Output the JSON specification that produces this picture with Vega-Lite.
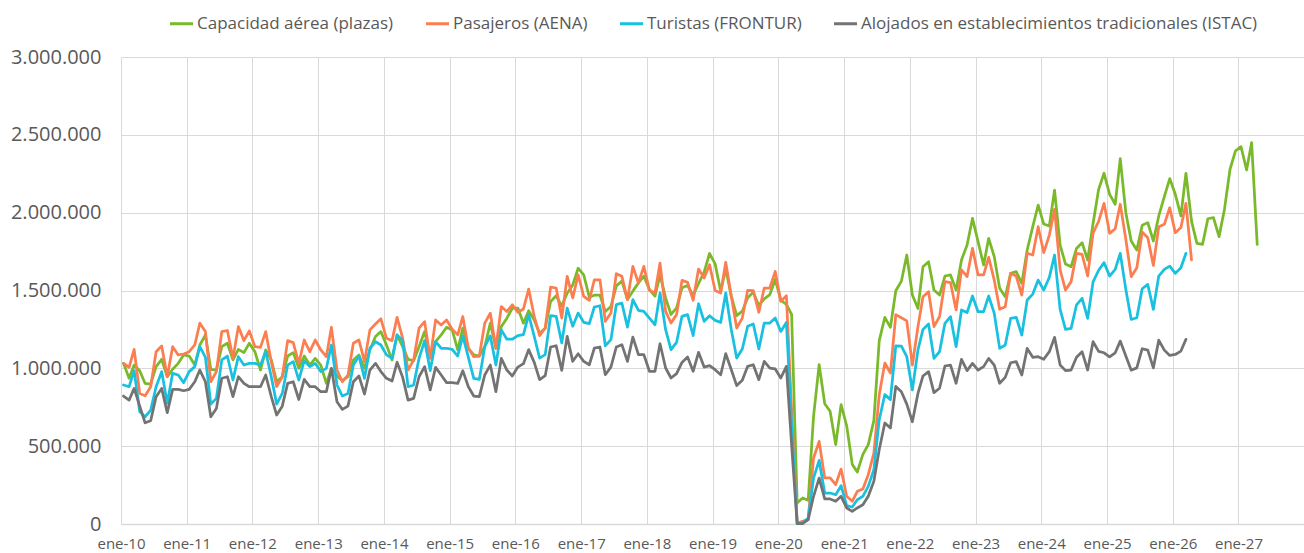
{
"$schema": "https://vega.github.io/schema/vega-lite/v6.json",
"width": 1183, "height": 467,
"autosize": {"type": "none"},
"padding": {"left": 121, "top": 57, "right": 0, "bottom": 29},
"background": "white",
"config": {"view": {"stroke": null}, "font": "Open Sans"},
"data": {"values": [
{"d":"2010-01-15","c":1032000,"p":1032000,"t":893000,"a":822000},
{"d":"2010-02-15","c":936000,"p":1006000,"t":882000,"a":796000},
{"d":"2010-03-15","c":1021000,"p":1122000,"t":985000,"a":871000},
{"d":"2010-04-15","c":985000,"p":839000,"t":721000,"a":757000},
{"d":"2010-05-15","c":903000,"p":824000,"t":689000,"a":650000},
{"d":"2010-06-15","c":899000,"p":882000,"t":732000,"a":663000},
{"d":"2010-07-15","c":1011000,"p":1107000,"t":882000,"a":818000},
{"d":"2010-08-15","c":1058000,"p":1144000,"t":979000,"a":871000},
{"d":"2010-09-15","c":946000,"p":946000,"t":775000,"a":715000},
{"d":"2010-10-15","c":994000,"p":1139000,"t":968000,"a":865000},
{"d":"2010-11-15","c":1032000,"p":1086000,"t":957000,"a":865000},
{"d":"2010-12-15","c":1086000,"p":1092000,"t":908000,"a":856000},
{"d":"2011-01-15","c":1079000,"p":1107000,"t":979000,"a":865000},
{"d":"2011-02-15","c":1021000,"p":1150000,"t":1011000,"a":914000},
{"d":"2011-03-15","c":1150000,"p":1290000,"t":1139000,"a":989000},
{"d":"2011-04-15","c":1215000,"p":1236000,"t":1071000,"a":914000},
{"d":"2011-05-15","c":994000,"p":914000,"t":770000,"a":689000},
{"d":"2011-06-15","c":989000,"p":979000,"t":807000,"a":742000},
{"d":"2011-07-15","c":1139000,"p":1236000,"t":1054000,"a":936000},
{"d":"2011-08-15","c":1161000,"p":1243000,"t":1079000,"a":946000},
{"d":"2011-09-15","c":1054000,"p":1064000,"t":925000,"a":818000},
{"d":"2011-10-15","c":1122000,"p":1268000,"t":1075000,"a":946000},
{"d":"2011-11-15","c":1101000,"p":1178000,"t":1021000,"a":903000},
{"d":"2011-12-15","c":1161000,"p":1240000,"t":1032000,"a":882000},
{"d":"2012-01-15","c":1107000,"p":1139000,"t":1032000,"a":882000},
{"d":"2012-02-15","c":989000,"p":1135000,"t":1021000,"a":882000},
{"d":"2012-03-15","c":1118000,"p":1236000,"t":1107000,"a":957000},
{"d":"2012-04-15","c":1054000,"p":1043000,"t":946000,"a":818000},
{"d":"2012-05-15","c":914000,"p":882000,"t":770000,"a":700000},
{"d":"2012-06-15","c":946000,"p":946000,"t":839000,"a":757000},
{"d":"2012-07-15","c":1079000,"p":1178000,"t":1021000,"a":903000},
{"d":"2012-08-15","c":1101000,"p":1165000,"t":1043000,"a":914000},
{"d":"2012-09-15","c":1000000,"p":1032000,"t":925000,"a":800000},
{"d":"2012-10-15","c":1079000,"p":1182000,"t":1049000,"a":929000},
{"d":"2012-11-15","c":1021000,"p":1107000,"t":1011000,"a":882000},
{"d":"2012-12-15","c":1064000,"p":1182000,"t":1032000,"a":882000},
{"d":"2013-01-15","c":1021000,"p":1118000,"t":979000,"a":850000},
{"d":"2013-02-15","c":903000,"p":1075000,"t":1000000,"a":850000},
{"d":"2013-03-15","c":1000000,"p":1264000,"t":1150000,"a":1000000},
{"d":"2013-04-15","c":951000,"p":989000,"t":893000,"a":785000},
{"d":"2013-05-15","c":921000,"p":914000,"t":822000,"a":736000},
{"d":"2013-06-15","c":946000,"p":957000,"t":839000,"a":757000},
{"d":"2013-07-15","c":1054000,"p":1161000,"t":1021000,"a":914000},
{"d":"2013-08-15","c":1086000,"p":1182000,"t":1079000,"a":951000},
{"d":"2013-09-15","c":1000000,"p":1043000,"t":936000,"a":835000},
{"d":"2013-10-15","c":1118000,"p":1247000,"t":1129000,"a":989000},
{"d":"2013-11-15","c":1204000,"p":1285000,"t":1172000,"a":1032000},
{"d":"2013-12-15","c":1236000,"p":1318000,"t":1150000,"a":979000},
{"d":"2014-01-15","c":1150000,"p":1193000,"t":1086000,"a":936000},
{"d":"2014-02-15","c":1054000,"p":1178000,"t":1064000,"a":918000},
{"d":"2014-03-15","c":1215000,"p":1328000,"t":1215000,"a":1039000},
{"d":"2014-04-15","c":1139000,"p":1193000,"t":1178000,"a":942000},
{"d":"2014-05-15","c":1058000,"p":989000,"t":882000,"a":796000},
{"d":"2014-06-15","c":1049000,"p":1054000,"t":893000,"a":807000},
{"d":"2014-07-15","c":1139000,"p":1258000,"t":1064000,"a":946000},
{"d":"2014-08-15","c":1236000,"p":1300000,"t":1178000,"a":1011000},
{"d":"2014-09-15","c":1079000,"p":1064000,"t":985000,"a":861000},
{"d":"2014-10-15","c":1172000,"p":1311000,"t":1172000,"a":1006000},
{"d":"2014-11-15","c":1215000,"p":1279000,"t":1129000,"a":957000},
{"d":"2014-12-15","c":1264000,"p":1311000,"t":1129000,"a":908000},
{"d":"2015-01-15","c":1247000,"p":1251000,"t":1122000,"a":908000},
{"d":"2015-02-15","c":1118000,"p":1215000,"t":1079000,"a":903000},
{"d":"2015-03-15","c":1258000,"p":1333000,"t":1208000,"a":985000},
{"d":"2015-04-15","c":1129000,"p":1129000,"t":1071000,"a":882000},
{"d":"2015-05-15","c":1086000,"p":1075000,"t":936000,"a":822000},
{"d":"2015-06-15","c":1079000,"p":1079000,"t":929000,"a":818000},
{"d":"2015-07-15","c":1139000,"p":1290000,"t":1139000,"a":957000},
{"d":"2015-08-15","c":1290000,"p":1354000,"t":1208000,"a":1021000},
{"d":"2015-09-15","c":1129000,"p":1129000,"t":1021000,"a":850000},
{"d":"2015-10-15","c":1268000,"p":1397000,"t":1247000,"a":1064000},
{"d":"2015-11-15","c":1322000,"p":1365000,"t":1187000,"a":989000},
{"d":"2015-12-15","c":1386000,"p":1408000,"t":1187000,"a":951000},
{"d":"2016-01-15","c":1387000,"p":1360000,"t":1210000,"a":1008000},
{"d":"2016-02-15","c":1290000,"p":1381000,"t":1216000,"a":1030000},
{"d":"2016-03-15","c":1370000,"p":1509000,"t":1345000,"a":1120000},
{"d":"2016-04-15","c":1310000,"p":1334000,"t":1205000,"a":1038000},
{"d":"2016-05-15","c":1226000,"p":1210000,"t":1066000,"a":927000},
{"d":"2016-06-15","c":1258000,"p":1259000,"t":1088000,"a":953000},
{"d":"2016-07-15","c":1429000,"p":1522000,"t":1338000,"a":1137000},
{"d":"2016-08-15","c":1466000,"p":1516000,"t":1334000,"a":1145000},
{"d":"2016-09-15","c":1400000,"p":1323000,"t":1163000,"a":987000},
{"d":"2016-10-15","c":1483000,"p":1591000,"t":1387000,"a":1205000},
{"d":"2016-11-15","c":1536000,"p":1452000,"t":1270000,"a":1045000},
{"d":"2016-12-15","c":1643000,"p":1601000,"t":1355000,"a":1094000},
{"d":"2017-01-15","c":1600000,"p":1462000,"t":1295000,"a":1045000},
{"d":"2017-02-15","c":1457000,"p":1437000,"t":1287000,"a":1023000},
{"d":"2017-03-15","c":1470000,"p":1569000,"t":1394000,"a":1130000},
{"d":"2017-04-15","c":1470000,"p":1569000,"t":1402000,"a":1137000},
{"d":"2017-05-15","c":1365000,"p":1302000,"t":1145000,"a":959000},
{"d":"2017-06-15","c":1397000,"p":1355000,"t":1184000,"a":1008000},
{"d":"2017-07-15","c":1530000,"p":1608000,"t":1409000,"a":1137000},
{"d":"2017-08-15","c":1560000,"p":1591000,"t":1419000,"a":1152000},
{"d":"2017-09-15","c":1442000,"p":1441000,"t":1265000,"a":1045000},
{"d":"2017-10-15","c":1496000,"p":1655000,"t":1441000,"a":1201000},
{"d":"2017-11-15","c":1549000,"p":1548000,"t":1372000,"a":1088000},
{"d":"2017-12-15","c":1592000,"p":1655000,"t":1366000,"a":1088000},
{"d":"2018-01-15","c":1506000,"p":1501000,"t":1323000,"a":981000},
{"d":"2018-02-15","c":1464000,"p":1484000,"t":1280000,"a":981000},
{"d":"2018-03-15","c":1600000,"p":1676000,"t":1484000,"a":1158000},
{"d":"2018-04-15","c":1453000,"p":1366000,"t":1248000,"a":1002000},
{"d":"2018-05-15","c":1346000,"p":1291000,"t":1120000,"a":938000},
{"d":"2018-06-15","c":1389000,"p":1345000,"t":1167000,"a":966000},
{"d":"2018-07-15","c":1517000,"p":1565000,"t":1334000,"a":1038000},
{"d":"2018-08-15","c":1532000,"p":1552000,"t":1345000,"a":1073000},
{"d":"2018-09-15","c":1468000,"p":1437000,"t":1210000,"a":981000},
{"d":"2018-10-15","c":1545000,"p":1638000,"t":1415000,"a":1103000},
{"d":"2018-11-15","c":1618000,"p":1580000,"t":1302000,"a":1008000},
{"d":"2018-12-15","c":1738000,"p":1666000,"t":1338000,"a":1017000},
{"d":"2019-01-15","c":1671000,"p":1500000,"t":1308000,"a":991000},
{"d":"2019-02-15","c":1496000,"p":1484000,"t":1295000,"a":959000},
{"d":"2019-03-15","c":1639000,"p":1681000,"t":1484000,"a":1094000},
{"d":"2019-04-15","c":1464000,"p":1462000,"t":1248000,"a":991000},
{"d":"2019-05-15","c":1339000,"p":1259000,"t":1066000,"a":889000},
{"d":"2019-06-15","c":1367000,"p":1323000,"t":1124000,"a":923000},
{"d":"2019-07-15","c":1453000,"p":1501000,"t":1270000,"a":1013000},
{"d":"2019-08-15","c":1489000,"p":1499000,"t":1285000,"a":1023000},
{"d":"2019-09-15","c":1404000,"p":1360000,"t":1124000,"a":927000},
{"d":"2019-10-15","c":1446000,"p":1516000,"t":1291000,"a":1045000},
{"d":"2019-11-15","c":1474000,"p":1516000,"t":1291000,"a":1002000},
{"d":"2019-12-15","c":1571000,"p":1623000,"t":1323000,"a":996000},
{"d":"2020-01-15","c":1438000,"p":1430000,"t":1237000,"a":938000},
{"d":"2020-02-15","c":1410000,"p":1467000,"t":1295000,"a":1013000},
{"d":"2020-03-15","c":1346000,"p":734000,"t":649000,"a":510000},
{"d":"2020-04-15","c":135000,"p":6000,"t":2000,"a":2000},
{"d":"2020-05-15","c":167000,"p":17000,"t":6000,"a":2000},
{"d":"2020-06-15","c":152000,"p":28000,"t":39000,"a":28000},
{"d":"2020-07-15","c":692000,"p":424000,"t":295000,"a":178000},
{"d":"2020-08-15","c":1024000,"p":531000,"t":409000,"a":295000},
{"d":"2020-09-15","c":773000,"p":296000,"t":199000,"a":161000},
{"d":"2020-10-15","c":724000,"p":296000,"t":199000,"a":161000},
{"d":"2020-11-15","c":510000,"p":253000,"t":188000,"a":146000},
{"d":"2020-12-15","c":767000,"p":353000,"t":246000,"a":178000},
{"d":"2021-01-15","c":631000,"p":178000,"t":118000,"a":103000},
{"d":"2021-02-15","c":383000,"p":146000,"t":109000,"a":81000},
{"d":"2021-03-15","c":334000,"p":210000,"t":156000,"a":103000},
{"d":"2021-04-15","c":447000,"p":225000,"t":178000,"a":124000},
{"d":"2021-05-15","c":510000,"p":317000,"t":242000,"a":178000},
{"d":"2021-06-15","c":664000,"p":456000,"t":349000,"a":274000},
{"d":"2021-07-15","c":1178000,"p":831000,"t":670000,"a":478000},
{"d":"2021-08-15","c":1327000,"p":1034000,"t":831000,"a":649000},
{"d":"2021-09-15","c":1263000,"p":970000,"t":799000,"a":617000},
{"d":"2021-10-15","c":1498000,"p":1345000,"t":1145000,"a":884000},
{"d":"2021-11-15","c":1560000,"p":1325000,"t":1143000,"a":850000},
{"d":"2021-12-15","c":1728000,"p":1305000,"t":1075000,"a":770000},
{"d":"2022-01-15","c":1471000,"p":1021000,"t":861000,"a":657000},
{"d":"2022-02-15","c":1385000,"p":1268000,"t":1118000,"a":839000},
{"d":"2022-03-15","c":1653000,"p":1460000,"t":1250000,"a":951000},
{"d":"2022-04-15","c":1685000,"p":1492000,"t":1285000,"a":979000},
{"d":"2022-05-15","c":1503000,"p":1268000,"t":1064000,"a":844000},
{"d":"2022-06-15","c":1471000,"p":1332000,"t":1107000,"a":872000},
{"d":"2022-07-15","c":1593000,"p":1557000,"t":1289000,"a":1015000},
{"d":"2022-08-15","c":1600000,"p":1550000,"t":1332000,"a":1021000},
{"d":"2022-09-15","c":1503000,"p":1375000,"t":1139000,"a":904000},
{"d":"2022-10-15","c":1696000,"p":1632000,"t":1375000,"a":1058000},
{"d":"2022-11-15","c":1792000,"p":1589000,"t":1358000,"a":985000},
{"d":"2022-12-15","c":1963000,"p":1771000,"t":1465000,"a":1032000},
{"d":"2023-01-15","c":1814000,"p":1600000,"t":1364000,"a":989000},
{"d":"2023-02-15","c":1664000,"p":1600000,"t":1364000,"a":1011000},
{"d":"2023-03-15","c":1835000,"p":1713000,"t":1465000,"a":1064000},
{"d":"2023-04-15","c":1717000,"p":1567000,"t":1353000,"a":1021000},
{"d":"2023-05-15","c":1514000,"p":1379000,"t":1128000,"a":904000},
{"d":"2023-06-15","c":1460000,"p":1396000,"t":1150000,"a":942000},
{"d":"2023-07-15","c":1610000,"p":1610000,"t":1321000,"a":1036000},
{"d":"2023-08-15","c":1621000,"p":1593000,"t":1328000,"a":1043000},
{"d":"2023-09-15","c":1546000,"p":1471000,"t":1214000,"a":957000},
{"d":"2023-10-15","c":1760000,"p":1739000,"t":1439000,"a":1128000},
{"d":"2023-11-15","c":1910000,"p":1728000,"t":1477000,"a":1071000},
{"d":"2023-12-15","c":2049000,"p":1910000,"t":1567000,"a":1075000},
{"d":"2024-01-15","c":1927000,"p":1743000,"t":1503000,"a":1058000},
{"d":"2024-02-15","c":1914000,"p":1856000,"t":1584000,"a":1107000},
{"d":"2024-03-15","c":2145000,"p":2021000,"t":1728000,"a":1199000},
{"d":"2024-04-15","c":1792000,"p":1632000,"t":1379000,"a":1021000},
{"d":"2024-05-15","c":1670000,"p":1503000,"t":1250000,"a":985000},
{"d":"2024-06-15","c":1653000,"p":1557000,"t":1257000,"a":989000},
{"d":"2024-07-15","c":1770000,"p":1739000,"t":1407000,"a":1071000},
{"d":"2024-08-15","c":1807000,"p":1732000,"t":1450000,"a":1107000},
{"d":"2024-09-15","c":1696000,"p":1593000,"t":1321000,"a":989000},
{"d":"2024-10-15","c":1930000,"p":1869000,"t":1555000,"a":1171000},
{"d":"2024-11-15","c":2150000,"p":1945000,"t":1630000,"a":1109000},
{"d":"2024-12-15","c":2253000,"p":2060000,"t":1679000,"a":1100000},
{"d":"2025-01-15","c":2118000,"p":1867000,"t":1593000,"a":1074000},
{"d":"2025-02-15","c":2054000,"p":1897000,"t":1636000,"a":1100000},
{"d":"2025-03-15","c":2347000,"p":2054000,"t":1739000,"a":1175000},
{"d":"2025-04-15","c":2000000,"p":1829000,"t":1507000,"a":1079000},
{"d":"2025-05-15","c":1818000,"p":1589000,"t":1314000,"a":988000},
{"d":"2025-06-15","c":1760000,"p":1646000,"t":1325000,"a":1003000},
{"d":"2025-07-15","c":1919000,"p":1876000,"t":1511000,"a":1126000},
{"d":"2025-08-15","c":1936000,"p":1839000,"t":1539000,"a":1117000},
{"d":"2025-09-15","c":1818000,"p":1661000,"t":1379000,"a":1003000},
{"d":"2025-10-15","c":1979000,"p":1910000,"t":1593000,"a":1181000},
{"d":"2025-11-15","c":2103000,"p":1925000,"t":1636000,"a":1117000},
{"d":"2025-12-15","c":2219000,"p":2032000,"t":1657000,"a":1083000},
{"d":"2026-01-15","c":2118000,"p":1871000,"t":1610000,"a":1089000},
{"d":"2026-02-15","c":1979000,"p":1904000,"t":1646000,"a":1111000},
{"d":"2026-03-15","c":2253000,"p":2060000,"t":1739000,"a":1186000},
{"d":"2026-04-15","c":1946000,"p":1696000},
{"d":"2026-05-15","c":1803000},
{"d":"2026-06-15","c":1796000},
{"d":"2026-07-15","c":1961000},
{"d":"2026-08-15","c":1968000},
{"d":"2026-09-15","c":1846000},
{"d":"2026-10-15","c":2021000},
{"d":"2026-11-15","c":2279000},
{"d":"2026-12-15","c":2396000},
{"d":"2027-01-15","c":2424000},
{"d":"2027-02-15","c":2274000},
{"d":"2027-03-15","c":2450000},
{"d":"2027-04-15","c":1796000}
]},
"transform": [
  {"fold": ["c", "p", "t", "a"], "as": ["s", "v"]},
  {"filter": "isValid(datum.v)"}
],
"mark": {"type": "line", "strokeWidth": 2.75, "strokeJoin": "round", "strokeCap": "round"},
"encoding": {
  "x": {
    "field": "d", "type": "temporal",
    "scale": {"domain": [{"year": 2010, "month": 1, "date": 1}, {"year": 2027, "month": 12, "date": 31}]},
    "axis": {
      "title": null,
      "tickCount": {"interval": "year", "step": 1},
      "labelExpr": "'ene-' + timeFormat(datum.value, '%y')",
      "grid": true, "gridColor": "#D9D9D9", "gridWidth": 1,
      "domain": true, "domainColor": "#D9D9D9", "domainWidth": 1.5,
      "ticks": false,
      "labelFont": "Open Sans", "labelFontSize": 15, "labelColor": "#595959",
      "labelPadding": 12, "labelOverlap": false, "labelFlush": false
    }
  },
  "y": {
    "field": "v", "type": "quantitative",
    "scale": {"domain": [0, 3000000], "nice": false},
    "axis": {
      "title": null,
      "values": [0, 500000, 1000000, 1500000, 2000000, 2500000, 3000000],
      "labelExpr": "replace(format(datum.value, ','), regexp(',', 'g'), '.')",
      "grid": true, "gridColor": "#D9D9D9", "gridWidth": 1,
      "domain": false, "ticks": false,
      "labelFont": "Open Sans", "labelFontSize": 20, "labelColor": "#595959",
      "labelPadding": 20
    }
  },
  "color": {
    "field": "s", "type": "nominal",
    "scale": {"domain": ["c", "p", "t", "a"], "range": ["#7AB92A", "#FC7E50", "#19C0E0", "#737373"]},
    "legend": {
      "orient": "none", "legendX": 47, "legendY": -47,
      "direction": "horizontal", "title": null,
      "symbolType": "stroke", "symbolSize": 530, "symbolStrokeWidth": 3,
      "labelFont": "Open Sans", "labelFontSize": 17, "labelColor": "#595959",
      "labelOffset": 2, "columnPadding": 25, "labelLimit": 600,
      "labelExpr": "{'c': 'Capacidad aérea (plazas)', 'p': 'Pasajeros (AENA)', 't': 'Turistas (FRONTUR)', 'a': 'Alojados en establecimientos tradicionales (ISTAC)'}[datum.label]"
    }
  }
}
}
